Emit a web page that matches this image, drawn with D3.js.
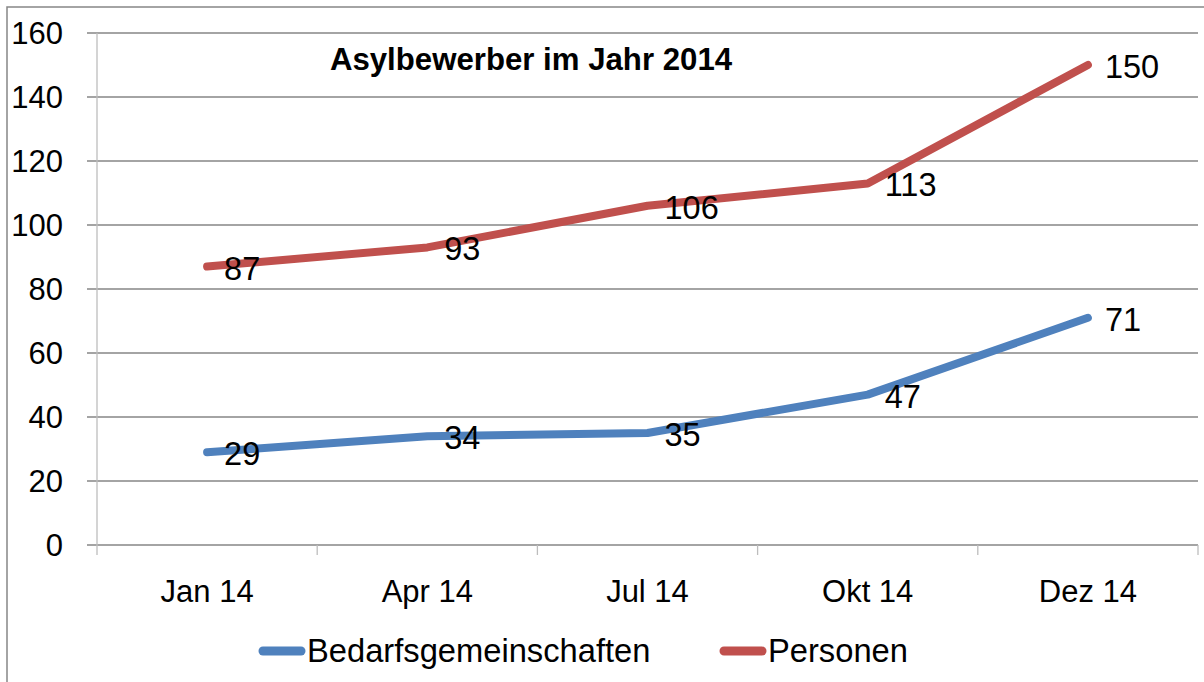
<!DOCTYPE html>
<html><head><meta charset="utf-8">
<script src="https://cdn.jsdelivr.net/npm/d3@7"></script>
<style>body{margin:0;background:#fff}svg{display:block}</style>
</head><body>
<script>
const categories = ["Jan 14", "Apr 14", "Jul 14", "Okt 14", "Dez 14"];
const bedarfsgemeinschaften = [29, 34, 35, 47, 71];
const personen = [87, 93, 106, 113, 150];
const yTicks = [0, 20, 40, 60, 80, 100, 120, 140, 160];
const seriesNames = ["Bedarfsgemeinschaften", "Personen"];
const seriesColors = ["#4F81BD", "#C0504D"];
const title = "Asylbewerber im Jahr 2014";

const W = 1204, H = 682;
const font = "'Liberation Sans', Arial, sans-serif";
const svg = d3.select("body").append("svg").attr("width", W).attr("height", H);

// outer chart border
svg.append("rect").attr("x", 7).attr("y", 7).attr("width", 1210).attr("height", 700)
  .attr("fill", "none").attr("stroke", "#868686").attr("stroke-width", 1.5);

const x = d3.scaleBand().domain(categories).range([97, 1198]);
const y = d3.scaleLinear().domain([0, 160]).range([545, 33]);

// gridlines
svg.append("g").selectAll("line").data(yTicks).join("line")
  .attr("x1", 87).attr("x2", 1198)
  .attr("y1", d => y(d)).attr("y2", d => y(d))
  .attr("stroke", "#868686").attr("stroke-width", 1.3);

// y axis line
svg.append("line").attr("x1", 97).attr("x2", 97).attr("y1", y(160)).attr("y2", 555)
  .attr("stroke", "#BDBDBD").attr("stroke-width", 1.3);

// category tick marks (between bands)
const bounds = categories.map(c => x(c)).concat([x.range()[1]]);
svg.append("g").selectAll("line").data(bounds.slice(1)).join("line")
  .attr("x1", d => d).attr("x2", d => d).attr("y1", 545).attr("y2", 555)
  .attr("stroke", "#BDBDBD").attr("stroke-width", 1.3);

// y tick labels
svg.append("g").selectAll("text").data(yTicks).join("text")
  .attr("x", 63).attr("y", d => y(d)).attr("dy", "0.36em")
  .attr("text-anchor", "end").attr("font-family", font).attr("font-size", 31)
  .attr("fill", "#000").text(d => d);

// x tick labels
svg.append("g").selectAll("text").data(categories).join("text")
  .attr("x", d => x(d) + x.bandwidth() / 2).attr("y", 602)
  .attr("text-anchor", "middle").attr("font-family", font).attr("font-size", 31)
  .attr("fill", "#000").text(d => d);

// lines
const series = [bedarfsgemeinschaften, personen];
const line = d3.line().x((d, i) => x(categories[i]) + x.bandwidth() / 2).y(d => y(d));
series.forEach((s, k) => {
  svg.append("path").datum(s).attr("d", line)
    .attr("fill", "none").attr("stroke", seriesColors[k]).attr("stroke-width", 8)
    .attr("stroke-linecap", "round").attr("stroke-linejoin", "round");
});
// data labels
series.forEach((s, k) => {
  svg.append("g").selectAll("text").data(s).join("text")
    .attr("x", (d, i) => x(categories[i]) + x.bandwidth() / 2 + 17)
    .attr("y", d => y(d)).attr("dy", "0.4em")
    .attr("font-family", font).attr("font-size", 32.5).attr("fill", "#000")
    .text(d => d);
});

// title
svg.append("text").attr("x", 531).attr("y", 70).attr("text-anchor", "middle")
  .attr("font-family", font).attr("font-size", 31.2).attr("font-weight", "bold")
  .attr("fill", "#000").text(title);

// legend
const legendX = [259, 720];
seriesNames.forEach((n, k) => {
  const g = svg.append("g");
  g.append("line").attr("x1", legendX[k] + 4).attr("x2", legendX[k] + 42)
    .attr("y1", 651).attr("y2", 651).attr("stroke", seriesColors[k])
    .attr("stroke-width", 9).attr("stroke-linecap", "round");
  g.append("text").attr("x", legendX[k] + 48).attr("y", 662)
    .attr("font-family", font).attr("font-size", 32.7).attr("fill", "#000").text(n);
});
</script>
</body></html>
